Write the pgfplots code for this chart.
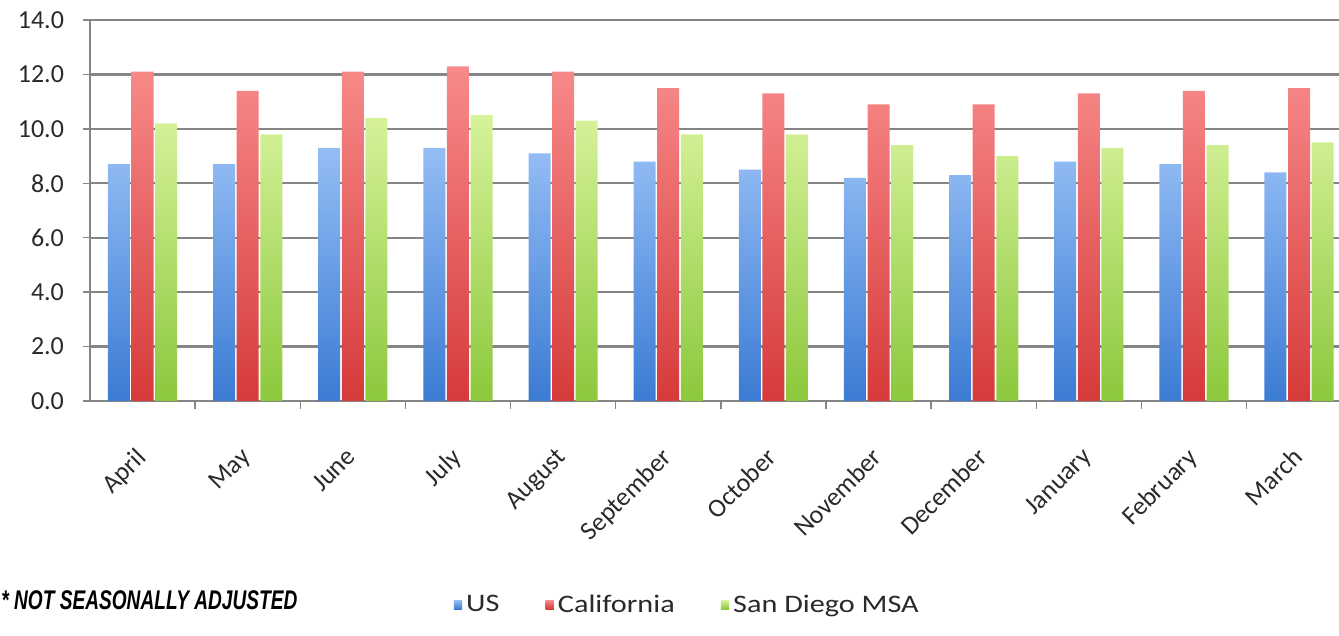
\documentclass[border=0pt]{standalone}
\usepackage{fontspec}
\setmainfont{Carlito}
\newfontfamily\legendfont[FakeStretch=1.2]{Carlito}
\newfontfamily\notefont{Liberation Sans}
\usepackage{graphicx}
\usepackage{pgfplots}
\pgfplotsset{compat=1.18}

\definecolor{usTop}{HTML}{94BDF5}
\definecolor{usBot}{HTML}{3B7BD3}
\definecolor{caTop}{HTML}{F88A8A}
\definecolor{caBot}{HTML}{D63A3A}
\definecolor{sdTop}{HTML}{D6F29A}
\definecolor{sdBot}{HTML}{8CC83C}
\definecolor{gridgray}{HTML}{858585}
\definecolor{labelgray}{HTML}{2A2A2A}

\begin{document}
\begin{tikzpicture}
\useasboundingbox (0,0) rectangle (669.5pt,318pt);
\begin{axis}[
  at={(45pt,117.5pt)}, anchor=south west,
  scale only axis,
  width=624.5pt, height=190.5pt,
  ybar=0.8pt, bar width=11pt,
  xmin=-0.5, xmax=11.38,
  ymin=0, ymax=14,
  ytick={0,2,...,14},
  yticklabel style={/pgf/number format/fixed,
    /pgf/number format/fixed zerofill,
    /pgf/number format/precision=1},
  /pgf/number format/assume math mode=true,
  xtick={0,...,11},
  xticklabels={April,May,June,July,August,September,October,November,December,January,February,March},
  minor xtick={0.5,1.5,...,10.5},
  tick align=outside,
  major tick length=3.5pt,
  minor tick length=4pt,
  major x tick style={draw=none},
  minor x tick style={draw=gridgray, line width=0.7pt},
  major y tick style={draw=gridgray, line width=0.7pt},
  axis x line*=bottom, axis y line*=left,
  axis line style={draw=gridgray, line width=0.8pt},
  ymajorgrids,
  major grid style={draw=gridgray, line width=1.1pt},
  tick label style={font=\fontsize{13}{15}\selectfont, text=labelgray},
  yticklabel style={xshift=-6pt},
  xticklabel style={xshift=-4pt, rotate=45, anchor=north east, inner sep=0pt},
  xticklabel shift=19pt,
  legend style={at={(0.479,-0.535)}, anchor=center, draw=none,
    font=\legendfont\fontsize{12.6}{15}\selectfont, text=labelgray,
    legend columns=3,
    /tikz/every even column/.append style={column sep=21pt}},
  legend image code/.code={\fill[#1] (0pt,-2.1pt) rectangle (4.2pt,2.3pt);},
]
\addplot[draw=none, top color=usTop, bottom color=usBot] coordinates {
  (0,8.7) (1,8.7) (2,9.3) (3,9.3) (4,9.1) (5,8.8)
  (6,8.5) (7,8.2) (8,8.3) (9,8.8) (10,8.7) (11,8.4)};
\addplot[draw=none, top color=caTop, bottom color=caBot] coordinates {
  (0,12.1) (1,11.4) (2,12.1) (3,12.3) (4,12.1) (5,11.5)
  (6,11.3) (7,10.9) (8,10.9) (9,11.3) (10,11.4) (11,11.5)};
\addplot[draw=none, top color=sdTop, bottom color=sdBot] coordinates {
  (0,10.2) (1,9.8) (2,10.4) (3,10.5) (4,10.3) (5,9.8)
  (6,9.8) (7,9.4) (8,9.0) (9,9.3) (10,9.4) (11,9.5)};
\legend{US, California, San Diego MSA}
\end{axis}
% footnote under the chart
\node[anchor=west, inner sep=0pt] at (0.5pt,18pt)
  {\resizebox{148pt}{\height}{\notefont\fontsize{13.5}{15}\selectfont\bfseries\itshape * NOT SEASONALLY ADJUSTED}};
\end{tikzpicture}
\end{document}
